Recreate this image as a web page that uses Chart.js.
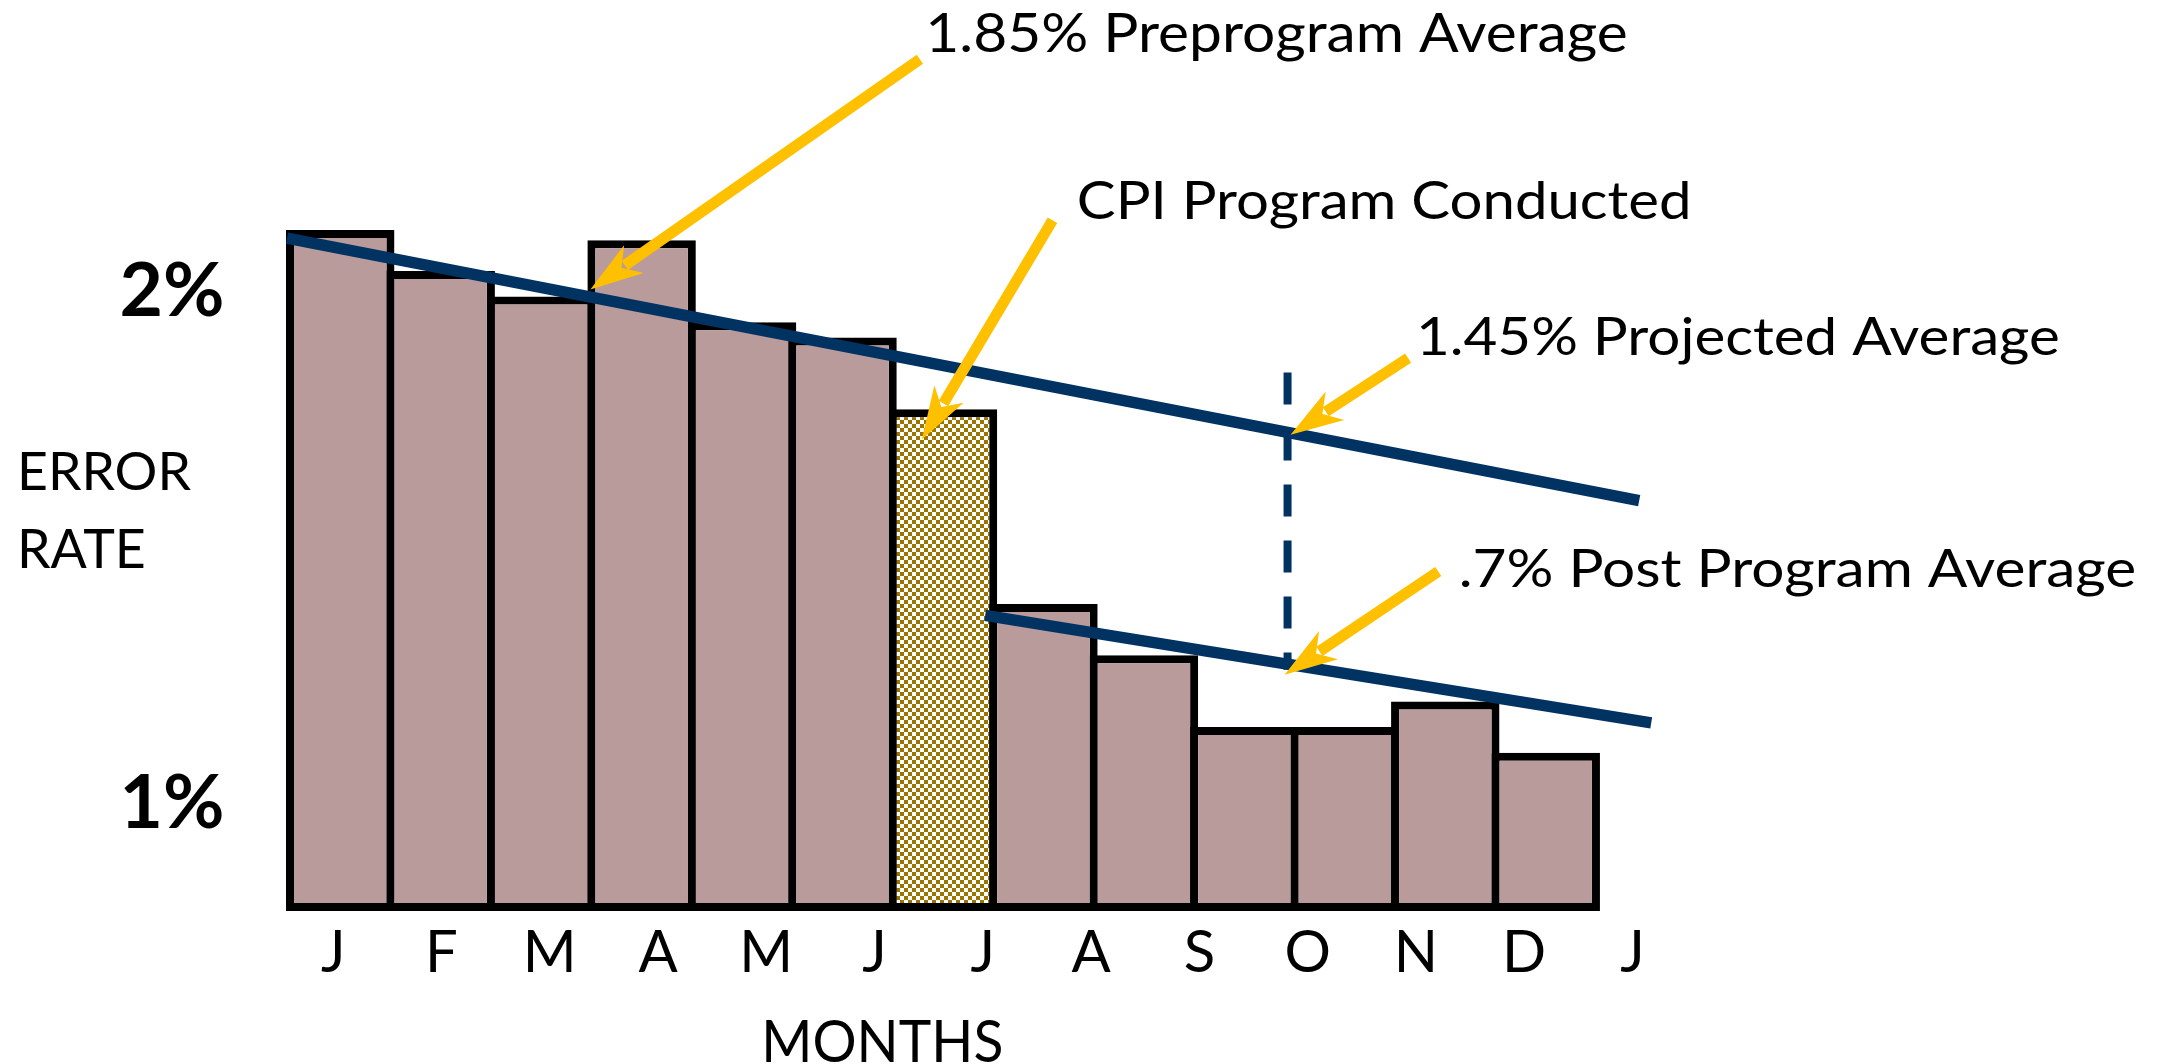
<!DOCTYPE html>
<html>
<head>
<meta charset="utf-8">
<script src="https://cdn.jsdelivr.net/npm/chart.js@4.4.1/dist/chart.umd.min.js"></script>
<style>
  html, body { margin: 0; padding: 0; background: #ffffff; overflow: hidden; }
  #c { display: block; }
</style>
</head>
<body>
<canvas id="c" width="2166" height="1064"></canvas>
<script>
// ---------------- DATA ----------------
const months = ['J', 'F', 'M', 'A', 'M', 'J', 'J', 'A', 'S', 'O', 'N', 'D', 'J'];
const errorRates = [2.12, 2.04, 1.99, 2.10, 1.94, 1.91, 1.77, 1.39, 1.29, 1.15, 1.15, 1.20, 1.10];
const programMonthIndex = 6;              // month in which the CPI program was conducted
const yTickValues = [1, 2];
const yTickLabels = ['1%', '2%'];
const yMin = 0.791;
const yMax = 2.199;

// trend lines (x in month index units, y in %)
const preTrendX = [-0.53, 12.93];
const preTrendY = [2.104, 1.592];
const postTrendX = [6.42, 13.05];
const postTrendY = [1.368, 1.158];
const projectionX = [9.43, 9.43];
const projectionY = [1.842, 1.262];

// callouts
const calloutTexts = ['1.85% Preprogram Average', 'CPI Program Conducted', '1.45% Projected Average', '.7% Post Program Average'];
const arrowTailX = [5.77, 7.09, 10.63, 10.93];
const arrowTailY = [2.453, 2.139, 1.870, 1.4535];
const arrowTipX  = [2.49, 5.79, 9.46, 9.40];
const arrowTipY  = [2.004, 1.711, 1.7205, 1.252];

const yAxisTitleLines = ['ERROR', 'RATE'];
const xAxisTitle = 'MONTHS';

// ---------------- STYLE ----------------
const BAR_FILL = '#B99B9B';
const CHECK_COLOR = '#9A7500';
const NAVY = '#003262';
const GOLD = '#FFC000';
const FONT = 'Lato';

function makeChecker() {
  const c = document.createElement('canvas');
  c.width = 8; c.height = 8;
  const g = c.getContext('2d');
  g.fillStyle = '#ffffff'; g.fillRect(0, 0, 8, 8);
  g.fillStyle = CHECK_COLOR;
  g.fillRect(0, 0, 4, 4); g.fillRect(4, 4, 4, 4);
  return document.getElementById('c').getContext('2d').createPattern(c, 'repeat');
}
const checker = makeChecker();

const toPoints = (xs, ys) => xs.map((v, i) => ({ x: v, y: ys[i] }));

function drawFitted(ctx, text, left, baseline, cap, width, weight) {
  const size = cap / 0.7165;
  ctx.font = `${weight} ${size}px ${FONT}`;
  ctx.textAlign = 'left';
  ctx.textBaseline = 'alphabetic';
  const m = ctx.measureText(text);
  const ink = m.actualBoundingBoxLeft + m.actualBoundingBoxRight;
  const s = width / ink;
  ctx.save();
  ctx.translate(left + m.actualBoundingBoxLeft * s, baseline);
  ctx.scale(s, 1);
  ctx.fillStyle = '#000000';
  ctx.fillText(text, 0, 0);
  ctx.restore();
}

function drawArrow(ctx, tx, ty, px, py) {
  const dx = tx - px, dy = ty - py;
  const len = Math.hypot(dx, dy);
  const ux = dx / len, uy = dy / len;
  const nx = -uy, ny = ux;
  const headLen = 53, halfW = 17, notch = 38;
  ctx.strokeStyle = GOLD;
  ctx.fillStyle = GOLD;
  ctx.lineWidth = 11;
  ctx.lineCap = 'butt';
  ctx.beginPath();
  ctx.moveTo(tx, ty);
  ctx.lineTo(px + ux * (notch + 4), py + uy * (notch + 4));
  ctx.stroke();
  ctx.beginPath();
  ctx.moveTo(px, py);
  ctx.lineTo(px + ux * headLen + nx * halfW, py + uy * headLen + ny * halfW);
  ctx.lineTo(px + ux * notch, py + uy * notch);
  ctx.lineTo(px + ux * headLen - nx * halfW, py + uy * headLen - ny * halfW);
  ctx.closePath();
  ctx.fill();
}

const calloutPlugin = {
  id: 'callouts',
  afterDatasetsDraw(chart) {
    const { ctx } = chart;
    const x = chart.scales.x, y = chart.scales.y;
    ctx.save();
    for (let i = 0; i < arrowTailX.length; i++) {
      drawArrow(ctx,
        x.getPixelForValue(arrowTailX[i]), y.getPixelForValue(arrowTailY[i]),
        x.getPixelForValue(arrowTipX[i]), y.getPixelForValue(arrowTipY[i]));
    }
    ctx.restore();
  },
  afterDraw(chart) {
    const ctx = chart.ctx;
    ctx.save();
    drawFitted(ctx, calloutTexts[0], 929.7, 51.7, 38.4, 696.6, 'normal');
    drawFitted(ctx, calloutTexts[1], 1079, 218.6, 38, 608.5, 'normal');
    drawFitted(ctx, calloutTexts[2], 1420.5, 355.4, 36.8, 638, 'normal');
    drawFitted(ctx, calloutTexts[3], 1461, 587.1, 38, 673, 'normal');
    drawFitted(ctx, yAxisTitleLines[0], 21, 490.2, 38, 169.8, 'normal');
    drawFitted(ctx, yAxisTitleLines[1], 21, 567.8, 38.5, 122.8, 'normal');
    drawFitted(ctx, xAxisTitle, 766, 1061.5, 41.5, 235, 'normal');
    ctx.restore();
  }
};

new Chart(document.getElementById('c'), {
  type: 'bar',
  data: {
    datasets: [
      {
        type: 'line',
        label: 'Preprogram average',
        data: toPoints(preTrendX, preTrendY),
        borderColor: NAVY,
        borderWidth: 11.5,
        pointRadius: 0,
        tension: 0,
        clip: false,
        order: 1,
        xAxisID: 'x', yAxisID: 'y'
      },
      {
        type: 'line',
        label: 'Post program average',
        data: toPoints(postTrendX, postTrendY),
        borderColor: NAVY,
        borderWidth: 11.5,
        pointRadius: 0,
        tension: 0,
        clip: false,
        order: 1,
        xAxisID: 'x', yAxisID: 'y'
      },
      {
        type: 'line',
        label: 'Projection marker',
        data: toPoints(projectionX, projectionY),
        borderColor: NAVY,
        borderWidth: 8,
        borderDash: [32, 24],
        pointRadius: 0,
        tension: 0,
        clip: false,
        order: 1,
        xAxisID: 'x', yAxisID: 'y'
      },
      {
        type: 'bar',
        label: 'Error rate',
        data: errorRates.map((v, i) => ({ x: i, y: v })),
        base: yMin,
        backgroundColor: (c) => c.dataIndex === programMonthIndex ? checker : BAR_FILL,
        borderColor: '#000000',
        borderWidth: 8,
        borderSkipped: false,
        inflateAmount: 0,
        barPercentage: 1.0796,
        categoryPercentage: 1,
        clip: false,
        order: 2,
        xAxisID: 'x', yAxisID: 'y'
      }
    ]
  },
  options: {
    responsive: false,
    animation: false,
    devicePixelRatio: 1,
    layout: { autoPadding: false, padding: { top: 189.5, right: 519.8, bottom: 0, left: 0 } },
    plugins: {
      legend: { display: false },
      tooltip: { enabled: false },
      title: { display: false }
    },
    scales: {
      x: {
        type: 'linear',
        position: 'bottom',
        display: false,
        offset: false,
        min: -0.5,
        max: 13,
        afterBuildTicks: (s) => { s.ticks = months.map((_, i) => ({ value: i })); },
        grid: { display: false, offset: false }
      },
      xl: {
        type: 'linear',
        position: 'bottom',
        offset: false,
        min: -0.399,
        max: 12.127,
        afterBuildTicks: (s) => { s.ticks = months.map((_, i) => ({ value: i })); },
        afterFit: (s) => { s.height = 153; s.paddingLeft = 0; s.paddingRight = 0; },
        grid: { display: false, drawTicks: false, offset: false },
        border: { display: false },
        ticks: {
          autoSkip: false,
          maxRotation: 0,
          minRotation: 0,
          padding: 7,
          color: '#000000',
          font: { family: FONT, size: 58, lineHeight: 1.2 },
          callback: (v) => months[v]
        }
      },
      y: {
        type: 'linear',
        position: 'left',
        beginAtZero: false,
        min: yMin,
        max: yMax,
        afterBuildTicks: (s) => { s.ticks = yTickValues.map(v => ({ value: v })); },
        afterFit: (s) => { s.width = 290; s.paddingTop = 0; s.paddingBottom = 0; },
        grid: { display: false, drawTicks: false },
        border: { display: false },
        ticks: {
          padding: 65.5,
          color: '#000000',
          font: { family: FONT, size: 75, weight: 'bold' },
          callback: (v) => yTickLabels[yTickValues.indexOf(v)]
        }
      }
    }
  },
  plugins: [calloutPlugin]
});
</script>
</body>
</html>
